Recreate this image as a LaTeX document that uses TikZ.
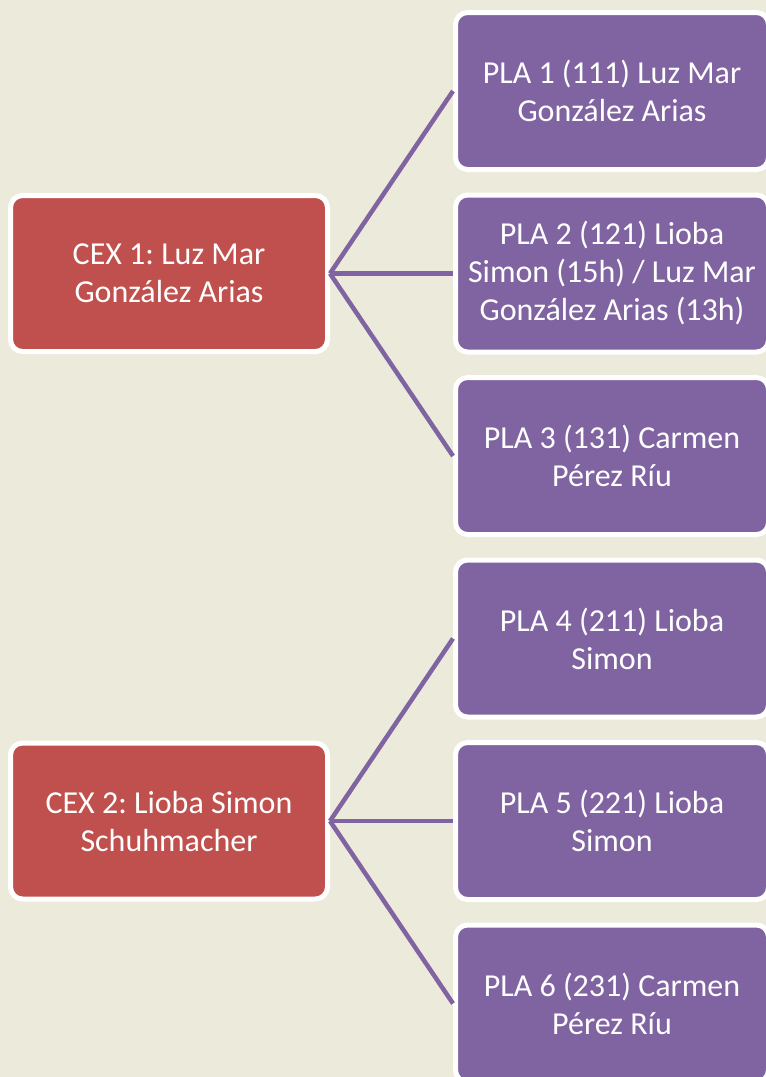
\documentclass[tikz,border=0pt]{standalone}
\usepackage{fontspec}
\setmainfont{Carlito}
\usepackage{tikz}
\usetikzlibrary{shapes,arrows,positioning}
\frenchspacing
\definecolor{paper}{HTML}{ECEADA}
\definecolor{cexred}{HTML}{C0504D}
\definecolor{plapurple}{HTML}{8064A2}
\tikzstyle{line} = [draw, plapurple, line width = 4.5pt]
\tikzstyle{cex} = [rectangle, draw = white, line width = 5pt, fill = cexred, text = white, align = center, rounded corners = 12pt, minimum width = 317pt, minimum height = 156pt, font = \fontsize{32}{38}\selectfont]
\tikzstyle{pla} = [rectangle, draw = white, line width = 5pt, fill = plapurple, text = white, align = center, rounded corners = 12pt, minimum width = 313pt, minimum height = 157pt, font = \fontsize{32}{38}\selectfont]

\begin{document}
\begin{tikzpicture}[x = 1pt, y = -1pt]
			\fill [paper] (0, 0) rectangle (766, 1077);
			\useasboundingbox (0, 0) rectangle (766, 1077);
			% Place nodes
			\node [cex] (cexone) at (169, 273.5) {CEX 1: Luz Mar\\González Arias};
			\node [cex] (cextwo) at (169, 821) {CEX 2: Lioba Simon\\Schuhmacher};
			\node [pla] (plaone) at (612, 91) {PLA 1 (111) Luz Mar\\González Arias};
			\node [pla] (platwo) at (612, 273.5) {PLA 2 (121) Lioba\\Simon (15h) / Luz Mar\\González Arias (13h)};
			\node [pla] (plathree) at (612, 456) {PLA 3 (131) Carmen\\Pérez Ríu};
			\node [pla] (plafour) at (612, 638.5) {PLA 4 (211) Lioba\\Simon};
			\node [pla] (plafive) at (612, 821) {PLA 5 (221) Lioba\\Simon};
			\node [pla] (plasix) at (612, 1003.5) {PLA 6 (231) Carmen\\Pérez Ríu};

			% Draw edges
			\path [line] (cexone.east) -- (plaone.west);
			\path [line] (cexone.east) -- (platwo.west);
			\path [line] (cexone.east) -- (plathree.west);
			\path [line] (cextwo.east) -- (plafour.west);
			\path [line] (cextwo.east) -- (plafive.west);
			\path [line] (cextwo.east) -- (plasix.west);
		\end{tikzpicture}
\end{document}
